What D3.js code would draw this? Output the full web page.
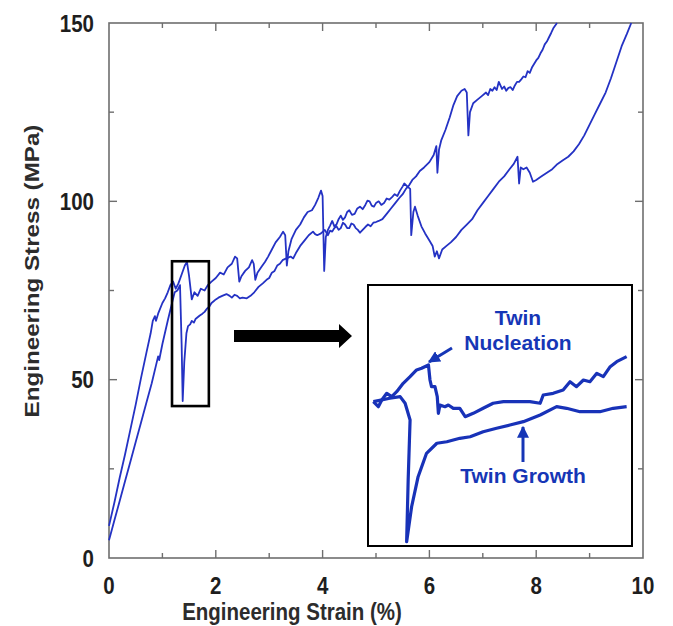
<!DOCTYPE html>
<html>
<head>
<meta charset="utf-8">
<script src="https://cdn.jsdelivr.net/npm/d3@7"></script>
<style>
  html, body { margin: 0; padding: 0; background: #fff; }
  svg { display: block; font-family: "Liberation Sans", Arial, Helvetica, sans-serif; }
</style>
</head>
<body>
<svg id="chart" width="673" height="626"></svg>
<script>
// Tensile curves: engineering strain (%) vs engineering stress (MPa)
const strainA = [0, 0.1, 0.2, 0.3, 0.4, 0.5, 0.6, 0.7, 0.78, 0.82, 0.86, 0.88, 0.92, 1.0, 1.05, 1.1, 1.15, 1.2, 1.25, 1.3, 1.36, 1.42, 1.46, 1.5, 1.55, 1.6, 1.66, 1.72, 1.79, 1.85, 1.92, 2.0, 2.08, 2.15, 2.22, 2.3, 2.36, 2.4, 2.44, 2.48, 2.55, 2.62, 2.68, 2.71, 2.74, 2.78, 2.85, 2.92, 2.98, 3.05, 3.12, 3.2, 3.26, 3.3, 3.33, 3.36, 3.42, 3.5, 3.58, 3.65, 3.72, 3.8, 3.86, 3.92, 3.97, 4.0, 4.03,
  4.06, 4.1, 4.14, 4.18, 4.22, 4.26, 4.3, 4.34, 4.38, 4.42, 4.46, 4.5, 4.55, 4.6, 4.65, 4.7, 4.75, 4.8, 4.84, 4.88, 4.92, 4.96, 5.0, 5.05, 5.1, 5.15, 5.2, 5.25, 5.3, 5.35, 5.4, 5.45, 5.5, 5.53,
  5.6, 5.64, 5.66, 5.7, 5.73, 5.78, 5.85, 5.92, 6.0, 6.06, 6.1, 6.14, 6.18, 6.24, 6.32, 6.4, 6.5, 6.6, 6.7, 6.8, 6.9, 7.0, 7.1, 7.2, 7.3, 7.4, 7.5, 7.58, 7.65, 7.68, 7.71, 7.76, 7.82, 7.88, 7.94, 8.0, 8.1, 8.2, 8.3, 8.4, 8.5, 8.6, 8.7, 8.8, 8.9, 9.0, 9.1, 9.2, 9.3, 9.4, 9.5, 9.6, 9.7, 9.78];
const stressA = [9, 15.5, 22.5, 29, 36, 43, 50.5, 57.5, 63, 66.5, 67.8, 66.5, 68.5, 71.5, 72.8, 74.5, 76.5, 77.5, 75.5, 77, 79.5, 82, 83, 79, 72.5, 74.5, 73.5, 75.5, 75, 76.5, 77.5, 78.5, 80, 79.5, 81.5, 82.5, 84.5, 84, 77.5, 79, 80.5, 81.5, 83.5, 82.5, 78, 80, 81.5, 83, 84.5, 86.5, 88.5, 90, 91.5, 90.5, 82, 86, 89.5, 92, 93.5, 95.5, 97, 97.5, 99, 101, 103, 101.5, 80.5,
  90, 92, 93.2, 94.5, 93, 93.5, 95, 96, 94.8, 95.5, 97, 97.5, 96.2, 96.5, 98, 98.5, 97.8, 99, 100.2, 100, 98.8, 98.5, 99.5, 100, 99, 99.5, 100.8, 100.5, 101.2, 102, 101.5, 103, 104.2, 105,
  104, 103.5, 90.5, 97, 98.5, 96, 93, 91, 89, 87.5, 84.5, 86, 84, 86.5, 87.5, 88.5, 90, 92, 93.5, 95, 97.5, 99.5, 101.5, 103.5, 105.5, 107, 109, 110.5, 112.5, 105, 109.5, 109, 109.5, 108, 105.5, 106, 107, 108, 109, 110.5, 111.5, 112.5, 114, 116, 118.5, 121.5, 124.5, 127.5, 130.5, 134.5, 139, 143.5, 147, 150];

const strainB = [0, 0.1, 0.2, 0.3, 0.4, 0.5, 0.6, 0.7, 0.8, 0.88, 0.92, 0.94, 1.0, 1.1, 1.18, 1.23, 1.28, 1.33, 1.36, 1.38, 1.41, 1.45, 1.48, 1.52, 1.55, 1.59, 1.62, 1.66, 1.7, 1.75, 1.79, 1.84, 1.88, 1.92, 1.96, 2.0, 2.05, 2.12, 2.2, 2.26, 2.3, 2.35, 2.4, 2.45, 2.5, 2.58, 2.65, 2.72, 2.8, 2.88, 2.95, 3.0, 3.05, 3.1, 3.15, 3.2, 3.25, 3.32, 3.4, 3.45, 3.5, 3.58, 3.66, 3.74, 3.82, 3.86, 3.9, 3.97, 4.04, 4.1, 4.14, 4.18, 4.22, 4.26, 4.3, 4.34, 4.38, 4.42, 4.46, 4.5, 4.54, 4.58, 4.62, 4.66, 4.7, 4.75, 4.8, 4.85, 4.9, 4.95, 5.0, 5.05, 5.12, 5.2, 5.28, 5.36, 5.44, 5.5, 5.56, 5.62, 5.68, 5.75, 5.82, 5.9, 6.0, 6.08, 6.13, 6.15, 6.18, 6.22, 6.3, 6.38, 6.45, 6.52, 6.6, 6.66, 6.7, 6.73, 6.76, 6.82, 6.9, 6.98, 7.06, 7.1, 7.14, 7.18, 7.22, 7.26, 7.3, 7.33, 7.36, 7.4, 7.44, 7.48, 7.52, 7.56, 7.6, 7.64, 7.68, 7.72, 7.76, 7.8, 7.84, 7.88, 7.92, 7.96, 8.0, 8.04, 8.08, 8.12, 8.16, 8.2, 8.24, 8.28, 8.32, 8.39];
const stressB = [5, 10.5, 16, 21.5, 27, 32.5, 38, 43.5, 49, 54, 56.5, 55.5, 60, 66.5, 71.5, 74.5, 75, 76.5, 60, 44, 55, 63, 65, 65.5, 66.5, 66, 67, 67.5, 68, 68.5, 69, 70, 70.5, 71.5, 72, 72.5, 73, 73.5, 74, 73.5, 73, 73.8, 73.5, 72.8, 73, 72.8, 73.5, 74.5, 76, 77, 78, 78.5, 80, 80.5, 82, 82.5, 83.5, 84, 84.5, 84, 85.5, 87.5, 89, 90.5, 91.5, 90.8, 90.5, 91, 92, 90.5, 91.8, 91.5, 92.5, 93, 92, 92.5, 94, 93.5, 92.5, 92.5, 93.8, 93.5, 92.5, 92, 91.2, 92, 92.8, 93.5, 93, 94, 94.2, 94.5, 95, 96.5, 98, 99.5, 101, 102, 103.5, 104.5, 106, 107, 108.5, 109.5, 111, 113, 115.5, 108, 114.5, 117, 120, 123.5, 127, 129.5, 131, 131.5, 130.5, 118.5, 125, 127.5, 128.5, 129.5, 130.5, 129.8, 131.5, 131, 132, 131.2, 133.5, 132.5, 131.5, 132.2, 131, 131.8, 132, 131.2, 132.5, 133.5, 133.5, 134.2, 135, 134.8, 136.5, 136, 137.5, 138.5, 139.5, 140.2, 141.5, 142.5, 144, 144.8, 146, 147.2, 148.5, 150];

// Magnified detail around the first load drop
const zoomStrain = [1.18, 1.87];
const zoomStress = [42.6, 83.2];
const nucStrain = [1.194, 1.207, 1.216, 1.229, 1.242, 1.255, 1.272, 1.29, 1.307, 1.32, 1.338, 1.342, 1.346, 1.355, 1.361, 1.364, 1.368, 1.381, 1.39, 1.403, 1.42, 1.434, 1.455, 1.481, 1.507, 1.534, 1.569, 1.603, 1.63, 1.638, 1.664, 1.69, 1.708, 1.725, 1.743, 1.76, 1.778, 1.795, 1.813, 1.83, 1.856];
const nucStress = [65.05, 64.27, 65.31, 66.35, 65.83, 66.6, 67.91, 68.94, 69.98, 70.24, 70.76, 68.42, 67.38, 67.38, 65.83, 63.24, 64.53, 64.27, 64.53, 64.02, 64.02, 62.71, 63.24, 64.02, 64.8, 65.05, 65.05, 65.05, 64.8, 66.09, 66.35, 66.87, 68.16, 67.38, 68.42, 68.16, 69.46, 68.94, 70.49, 71.27, 72.05];
const growStrain = [1.194, 1.237, 1.264, 1.277, 1.29, 1.285, 1.281, 1.294, 1.311, 1.333, 1.36, 1.386, 1.42, 1.447, 1.481, 1.516, 1.551, 1.586, 1.63, 1.673, 1.699, 1.734, 1.786, 1.821, 1.856];
const growStress = [65.05, 65.58, 65.83, 64.8, 62.2, 52.87, 43.27, 48.71, 53.38, 57.02, 58.58, 58.82, 59.35, 59.6, 60.38, 60.91, 61.42, 61.94, 62.98, 64.27, 64.02, 63.49, 63.49, 64.02, 64.27];

// Axis ticks
const xTicks = [0, 2, 4, 6, 8, 10];
const xMinor = [1, 3, 5, 7, 9];
const yTicks = [0, 50, 100, 150];
const yMinor = [25, 75, 125];

const svg = d3.select("#chart");
const pL = 109, pR = 643, pT = 23, pB = 558;
const x = d3.scaleLinear().domain([0, 10]).range([pL, pR]);
const y = d3.scaleLinear().domain([0, 150]).range([pB, pT]);

const curveColor = "#2432c4";
const textBlue = "#1636b6";
const axisColor = "#6e6e6e";
const stretch = 1.18;

// Frame
svg.append("rect")
  .attr("x", pL).attr("y", pT)
  .attr("width", pR - pL).attr("height", pB - pT)
  .attr("fill", "none").attr("stroke", axisColor).attr("stroke-width", 1.6);

// Inward ticks on all four sides
const tickG = svg.append("g").attr("stroke", axisColor).attr("stroke-width", 1.4);
function xt(vals, len) {
  vals.forEach(v => {
    tickG.append("line").attr("x1", x(v)).attr("x2", x(v)).attr("y1", pB).attr("y2", pB - len);
    tickG.append("line").attr("x1", x(v)).attr("x2", x(v)).attr("y1", pT).attr("y2", pT + len);
  });
}
function yt(vals, len) {
  vals.forEach(v => {
    tickG.append("line").attr("y1", y(v)).attr("y2", y(v)).attr("x1", pL).attr("x2", pL + len);
    tickG.append("line").attr("y1", y(v)).attr("y2", y(v)).attr("x1", pR).attr("x2", pR - len);
  });
}
xt(xTicks.slice(1, -1), 8); xt(xMinor, 5);
yt(yTicks.slice(1, -1), 8); yt(yMinor, 5);

// Tick labels
svg.append("g").selectAll("text").data(xTicks).join("text")
  .attr("transform", d => `translate(${x(d)},594) scale(1,${stretch})`)
  .attr("text-anchor", "middle")
  .attr("font-size", 20.5).attr("font-weight", "bold").attr("fill", "#1e1e1e")
  .text(d => d);
svg.append("g").selectAll("text").data(yTicks).join("text")
  .attr("transform", d => `translate(94,${y(d) + 8.5}) scale(1,${stretch})`)
  .attr("text-anchor", "end")
  .attr("font-size", 20.5).attr("font-weight", "bold").attr("fill", "#1e1e1e")
  .text(d => d);

// Axis titles
svg.append("text")
  .attr("transform", `translate(292,620) scale(1,${stretch})`)
  .attr("text-anchor", "middle")
  .attr("font-size", 20.5).attr("font-weight", "bold").attr("fill", "#2c2c2c")
  .text("Engineering Strain (%)");
svg.append("text")
  .attr("transform", `translate(39,271) scale(1,${stretch}) rotate(-90)`)
  .attr("text-anchor", "middle")
  .attr("font-size", 20.5).attr("font-weight", "bold").attr("fill", "#2c2c2c")
  .text("Engineering Stress (MPa)");

// Main curves
const line = d3.line().x(d => x(d[0])).y(d => y(d[1]));
const plot = svg.append("g");
[[strainA, stressA], [strainB, stressB]].forEach(([s, t]) => {
  plot.append("path")
    .datum(d3.zip(s, t))
    .attr("d", line)
    .attr("fill", "none")
    .attr("stroke", curveColor)
    .attr("stroke-width", 1.8)
    .attr("stroke-linejoin", "round");
});

// Box marking the magnified region
svg.append("rect")
  .attr("x", x(zoomStrain[0])).attr("y", y(zoomStress[1]))
  .attr("width", x(zoomStrain[1]) - x(zoomStrain[0]))
  .attr("height", y(zoomStress[0]) - y(zoomStress[1]))
  .attr("fill", "none").attr("stroke", "#000").attr("stroke-width", 2.6);

// Block arrow pointing to the inset
svg.append("path")
  .attr("d", "M234,330 H339 V324 L352,336 L339,348 V342 H234 Z")
  .attr("fill", "#000");

// Inset
const inX0 = 368, inX1 = 632, inY0 = 285, inY1 = 546;
const xi = d3.scaleLinear().domain(zoomStrain).range([inX0, inX1]);
const yi = d3.scaleLinear().domain(zoomStress).range([inY1, inY0]);
svg.append("rect")
  .attr("x", inX0).attr("y", inY0).attr("width", inX1 - inX0).attr("height", inY1 - inY0)
  .attr("fill", "#fff").attr("stroke", "#000").attr("stroke-width", 2);
svg.append("clipPath").attr("id", "inclip").append("rect")
  .attr("x", inX0).attr("y", inY0).attr("width", inX1 - inX0).attr("height", inY1 - inY0);
const lineI = d3.line().x(d => xi(d[0])).y(d => yi(d[1]));
const inG = svg.append("g").attr("clip-path", "url(#inclip)");
[[nucStrain, nucStress], [growStrain, growStress]].forEach(([s, t]) => {
  inG.append("path")
    .datum(d3.zip(s, t))
    .attr("d", lineI)
    .attr("fill", "none")
    .attr("stroke", "#1832b8")
    .attr("stroke-width", 3.2)
    .attr("stroke-linejoin", "round");
});

// Annotations
svg.append("defs").append("marker")
  .attr("id", "head").attr("viewBox", "0 0 10 10")
  .attr("refX", 9).attr("refY", 5)
  .attr("markerWidth", 4).attr("markerHeight", 4)
  .attr("orient", "auto")
  .append("path").attr("d", "M0,0 L10,5 L0,10 Z").attr("fill", textBlue);

svg.append("line")
  .attr("x1", 452).attr("y1", 348).attr("x2", 429).attr("y2", 362)
  .attr("stroke", textBlue).attr("stroke-width", 3).attr("marker-end", "url(#head)");
svg.append("line")
  .attr("x1", 523).attr("y1", 462).attr("x2", 523).attr("y2", 427)
  .attr("stroke", textBlue).attr("stroke-width", 3).attr("marker-end", "url(#head)");

const labels = [
  { t: "Twin", cx: 518, by: 325 },
  { t: "Nucleation", cx: 518, by: 350 },
  { t: "Twin Growth", cx: 523, by: 483 }
];
svg.append("g").selectAll("text").data(labels).join("text")
  .attr("x", d => d.cx).attr("y", d => d.by)
  .attr("text-anchor", "middle")
  .attr("font-size", 21).attr("font-weight", "bold").attr("fill", textBlue)
  .text(d => d.t);
</script>
</body>
</html>
